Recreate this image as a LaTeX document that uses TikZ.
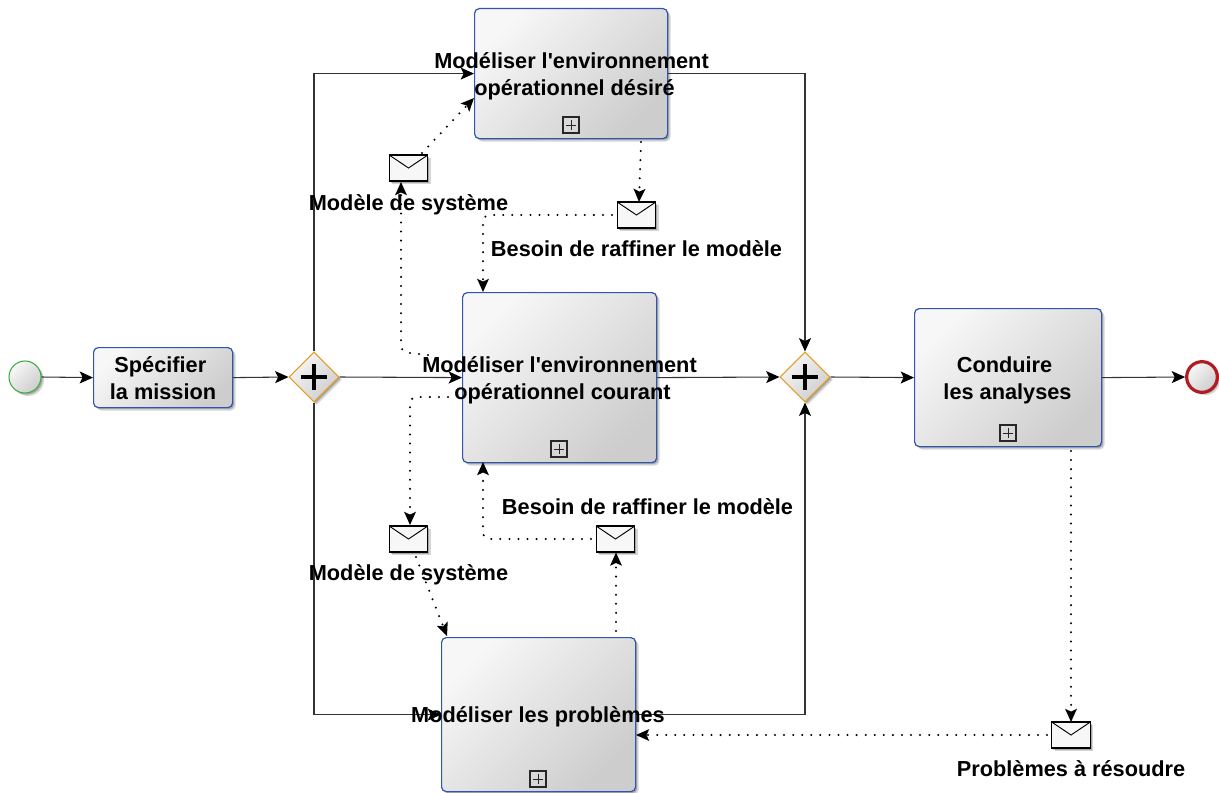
\documentclass[tikz,border=0pt]{standalone}
\usepackage{fontspec}
\newfontfamily\lab{Liberation Sans}
\usetikzlibrary{shapes.geometric,arrows.meta,shadows,calc}
\definecolor{flow}{HTML}{333333}
\definecolor{taskb}{HTML}{2F55B0}
\definecolor{gateb}{HTML}{E59A20}
\definecolor{startb}{HTML}{3CB043}
\definecolor{endb}{HTML}{B01C22}
\definecolor{shl}{HTML}{F7F7F7}
\definecolor{shd}{HTML}{CDCDCD}
\tikzset{
  softshadow/.style={drop shadow={shadow xshift=2.2pt,shadow yshift=-2.2pt,opacity=.16,fill=black},
                     drop shadow={shadow xshift=1.2pt,shadow yshift=-1.2pt,opacity=.22,fill=black}},
  grad/.style={left color=shl,right color=shd,shading angle=45},
  boxsize/.style 2 args={minimum width=#1*.75pt,minimum height=#2*.75pt},
  taskbox/.style={rectangle,rounded corners=3.5pt,draw=taskb,line width=.9pt,grad,softshadow,inner sep=0pt,anchor=north west},
  msg/.style={rectangle,draw=black,line width=.8pt,fill=shl,softshadow,minimum width=29pt,minimum height=19.5pt,inner sep=0pt,
    path picture={\draw[line width=.7pt] (path picture bounding box.north west) -- (path picture bounding box.center) -- (path picture bounding box.north east);}},
  gate/.style={diamond,aspect=1,draw=gateb,line width=.8pt,grad,softshadow,minimum size=37.5pt,inner sep=0pt,
    path picture={\draw[line width=3pt,black] ($(path picture bounding box.center)+(-10pt,0)$) -- ($(path picture bounding box.center)+(10pt,0)$)
      ($(path picture bounding box.center)+(0,-10pt)$) -- ($(path picture bounding box.center)+(0,10pt)$);}},
  startev/.style={circle,draw=startb,line width=.8pt,grad,softshadow,minimum size=24pt,inner sep=0pt},
  endev/.style={circle,draw=endb,line width=2.4pt,grad,softshadow,minimum size=23pt,inner sep=0pt},
  expander/.style={rectangle,draw=black!85,line width=.8pt,fill=none,minimum size=12pt,inner sep=0pt,
    path picture={\draw[line width=.5pt] ($(path picture bounding box.center)+(-3.8pt,0)$) -- ($(path picture bounding box.center)+(3.8pt,0)$)
      ($(path picture bounding box.center)+(0,-3.8pt)$) -- ($(path picture bounding box.center)+(0,3.8pt)$);}},
  txt/.style={font=\lab\bfseries\fontsize{16.3}{20}\selectfont,align=center,inner sep=0pt,text=black},
  seq/.style={draw=flow,line width=.8pt,-{Stealth[length=10pt,width=9pt,inset=2.2pt,fill=black,color=black]}},
  msgflow/.style={draw=black,line width=1.7pt,line cap=round,dash pattern=on 0pt off 6.8pt,rounded corners=5pt,
    -{Stealth[length=10pt,width=9pt,inset=2.2pt,fill=black,color=black,line cap=butt,line width=0pt,sep=0pt]}},
  x=.75pt,y=-.75pt
}
\begin{document}
\begin{tikzpicture}
\useasboundingbox (0,0) rectangle (1219,792);
% shapes first for anchors
\node[startev] (st) at (25,377) {};
\node[endev] (en) at (1202,377) {};
\node[gate] (ga) at (314,377) {};
\node[gate] (gb) at (805,377) {};
\node[taskbox,boxsize={139}{60}] (spec) at (93,347) {};
\node[taskbox,boxsize={193}{130}] (des) at (474,8) {};
\node[taskbox,boxsize={194}{170}] (cou) at (462,292) {};
\node[taskbox,boxsize={194}{154}] (pro) at (441,637) {};
\node[taskbox,boxsize={187}{138}] (con) at (914,308) {};
\node[msg] (ma) at (408.5,168) {};
\node[msg] (mb) at (636.5,215) {};
\node[msg] (mc) at (408.5,539) {};
\node[msg] (md) at (615.5,539) {};
\node[msg] (me) at (1071,735) {};
\node[expander] (xa) at (571,125) {};
\node[expander] (xb) at (559,449) {};
\node[expander] (xc) at (538,779) {};
\node[expander] (xd) at (1008,433) {};
% sequence flows
\draw[seq] (st.east) -- (spec.west);
\draw[seq] (spec.east) -- (ga.west);
\draw[seq] (ga.east) -- (cou.west);
\draw[seq] (ga.north) |- (des.west);
\draw[seq] (ga.south) |- (pro.west);
\draw[seq] (cou.east) -- (gb.west);
\draw[seq] (des.east) -| (gb.north);
\draw[seq] (pro.east) -| (gb.south);
\draw[seq] (gb.east) -- (con.west);
\draw[seq] (con.east) -- (en.west);
% message flows
\coordinate (a1) at (422,153); \coordinate (a2) at (474,98);
\draw[msgflow] (a1) -- (a2);
\coordinate (b1) at (641,142); \coordinate (b2) at (639,202);
\draw[msgflow] (b1) -- (b2);
\coordinate (c1) at (612,215); \coordinate (c2) at (483,215); \coordinate (c3) at (483,292);
\draw[msgflow] (c1) -- (c2) -- (c3);
\coordinate (d1) at (428,355); \coordinate (d2) at (401,352); \coordinate (d3) at (401,182);
\draw[msgflow] (d1) -- (d2) -- (d3);
\coordinate (e1) at (448,397); \coordinate (e2) at (410,397); \coordinate (e3) at (410,525);
\draw[msgflow] (e1) -- (e2) -- (e3);
\coordinate (f1) at (416,557); \coordinate (f2) at (447,636);
\draw[msgflow] (f1) -- (f2);
\coordinate (g1) at (616,631); \coordinate (g2) at (616,552.5);
\draw[msgflow] (g1) -- (g2);
\coordinate (h1) at (591,539); \coordinate (h2) at (483,539); \coordinate (h3) at (483,462);
\draw[msgflow] (h1) -- (h2) -- (h3);
\coordinate (i1) at (1071,451); \coordinate (i2) at (1071,722);
\draw[msgflow] (i1) -- (i2);
\coordinate (j1) at (1047,735); \coordinate (j2) at (636,735);
\draw[msgflow] (j1) -- (j2);
% labels
\node[txt] (t1) at (163,378) {Spécifier\hspace*{4pt}\\la mission};
\node[txt] (t2) at (571.5,76) {Modéliser l'environnement\\\hspace*{4.5pt}opérationnel désiré};
\node[txt] (t3) at (559.5,380) {Modéliser l'environnement\\\hspace*{4.5pt}opérationnel courant};
\node[txt] (t4) at (538,717) {Modéliser les problèmes};
\node[txt] (t5) at (1007.5,380.5) {Conduire\hspace*{4.5pt}\\les analyses};
\node[txt] (t6) at (408.5,205) {Modèle de système};
\node[txt] (t7) at (636.5,249) {Besoin de raffiner le modèle};
\node[txt] (t8) at (408.5,575) {Modèle de système};
\node[txt] (t9) at (647.5,507) {Besoin de raffiner le modèle};
\node[txt] (t10) at (1071,769) {Problèmes à résoudre};
\end{tikzpicture}
\end{document}
